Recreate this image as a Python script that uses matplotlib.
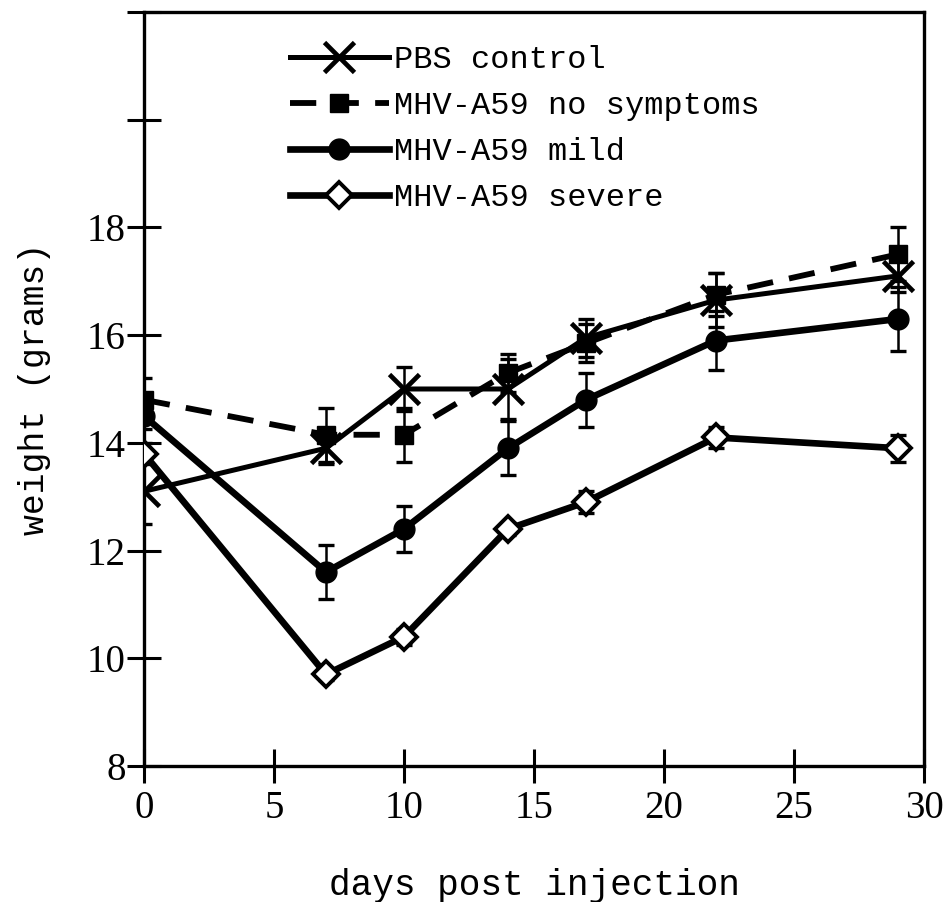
import numpy as np
import matplotlib
matplotlib.use('Agg')
import matplotlib.pyplot as plt

# weight (grams) per group
days = [0, 7, 10, 14, 17, 22, 29]

pbs = [13.1, 13.9, 15.0, 15.0, 15.95, 16.65, 17.1]
pbs_err = [0.6, 0.3, 0.4, 0.55, 0.35, 0.5, 0.3]

no_sym = [14.8, 14.15, 14.15, 15.3, 15.85, 16.75, 17.5]
no_sym_err = [0.4, 0.5, 0.5, 0.35, 0.35, 0.4, 0.5]

mild = [14.5, 11.6, 12.4, 13.9, 14.8, 15.9, 16.3]
mild_err = [0.25, 0.5, 0.43, 0.5, 0.5, 0.55, 0.6]

severe = [13.8, 9.7, 10.4, 12.4, 12.9, 14.1, 13.9]
severe_err = [0.2, 0.1, 0.15, 0.12, 0.2, 0.2, 0.25]

labels = ['PBS control', 'MHV-A59 no symptoms', 'MHV-A59 mild', 'MHV-A59 severe']

yticks = [8, 10, 12, 14, 16, 18, 20, 22]
ytick_labels = ['8', '10', '12', '14', '16', '18', '', '']
xticks = [0, 5, 10, 15, 20, 25, 30]

serif = ['Liberation Serif', 'DejaVu Serif']
mono = ['Liberation Mono', 'DejaVu Sans Mono']

fig = plt.figure(figsize=(9.44, 9.02), dpi=100)
ax = fig.add_axes([0.1525, 0.1508, 0.8263, 0.8359])

eb = dict(fmt='none', ecolor='k', elinewidth=1.8, capsize=6, capthick=2.4, zorder=2)
ax.errorbar(days, no_sym, yerr=no_sym_err, **eb)
ax.errorbar(days, pbs, yerr=pbs_err, **eb)
ax.errorbar(days, mild, yerr=mild_err, **eb)
ax.errorbar(days, severe, yerr=severe_err, **eb)

ax.plot(days, pbs, color='k', lw=3.6, marker='x', ms=21, mew=3.4,
        label=labels[0], zorder=4)
ax.plot(days, no_sym, color='k', lw=4.2, ls=(0, (4.5, 2.8)), marker='s', ms=13,
        label=labels[1], zorder=3)
ax.plot(days, mild, color='k', lw=4.8, marker='o', ms=15,
        label=labels[2], zorder=3)
ax.plot(days, severe, color='k', lw=4.8, marker='D', ms=13, mfc='white', mec='k',
        mew=2.8, label=labels[3], zorder=3)

ax.set_xlim(0, 30)
ax.set_ylim(8, 22)
ax.set_xticks(xticks)
ax.set_yticks(yticks)
ax.set_yticklabels(ytick_labels)

for s in ax.spines.values():
    s.set_linewidth(2.4)
ax.tick_params(direction='inout', length=24, width=2.2, colors='k')
ax.tick_params(axis='x', pad=5)
ax.tick_params(axis='y', pad=1)
for t in ax.get_xticklabels() + ax.get_yticklabels():
    t.set_fontfamily(serif)
    t.set_fontsize(28)

ax.set_xlabel('days post injection', family=mono, fontsize=26, labelpad=30)
ax.set_ylabel('weight (grams)', family=mono, fontsize=25, labelpad=26)

leg = ax.legend(loc='upper left', bbox_to_anchor=(0.187, 0.956), frameon=False,
                prop={'family': mono, 'size': 23}, handlelength=3.1,
                handletextpad=0.15, labelspacing=0.5, borderpad=0,
                borderaxespad=0)

fig.savefig('out.png', dpi=100)
